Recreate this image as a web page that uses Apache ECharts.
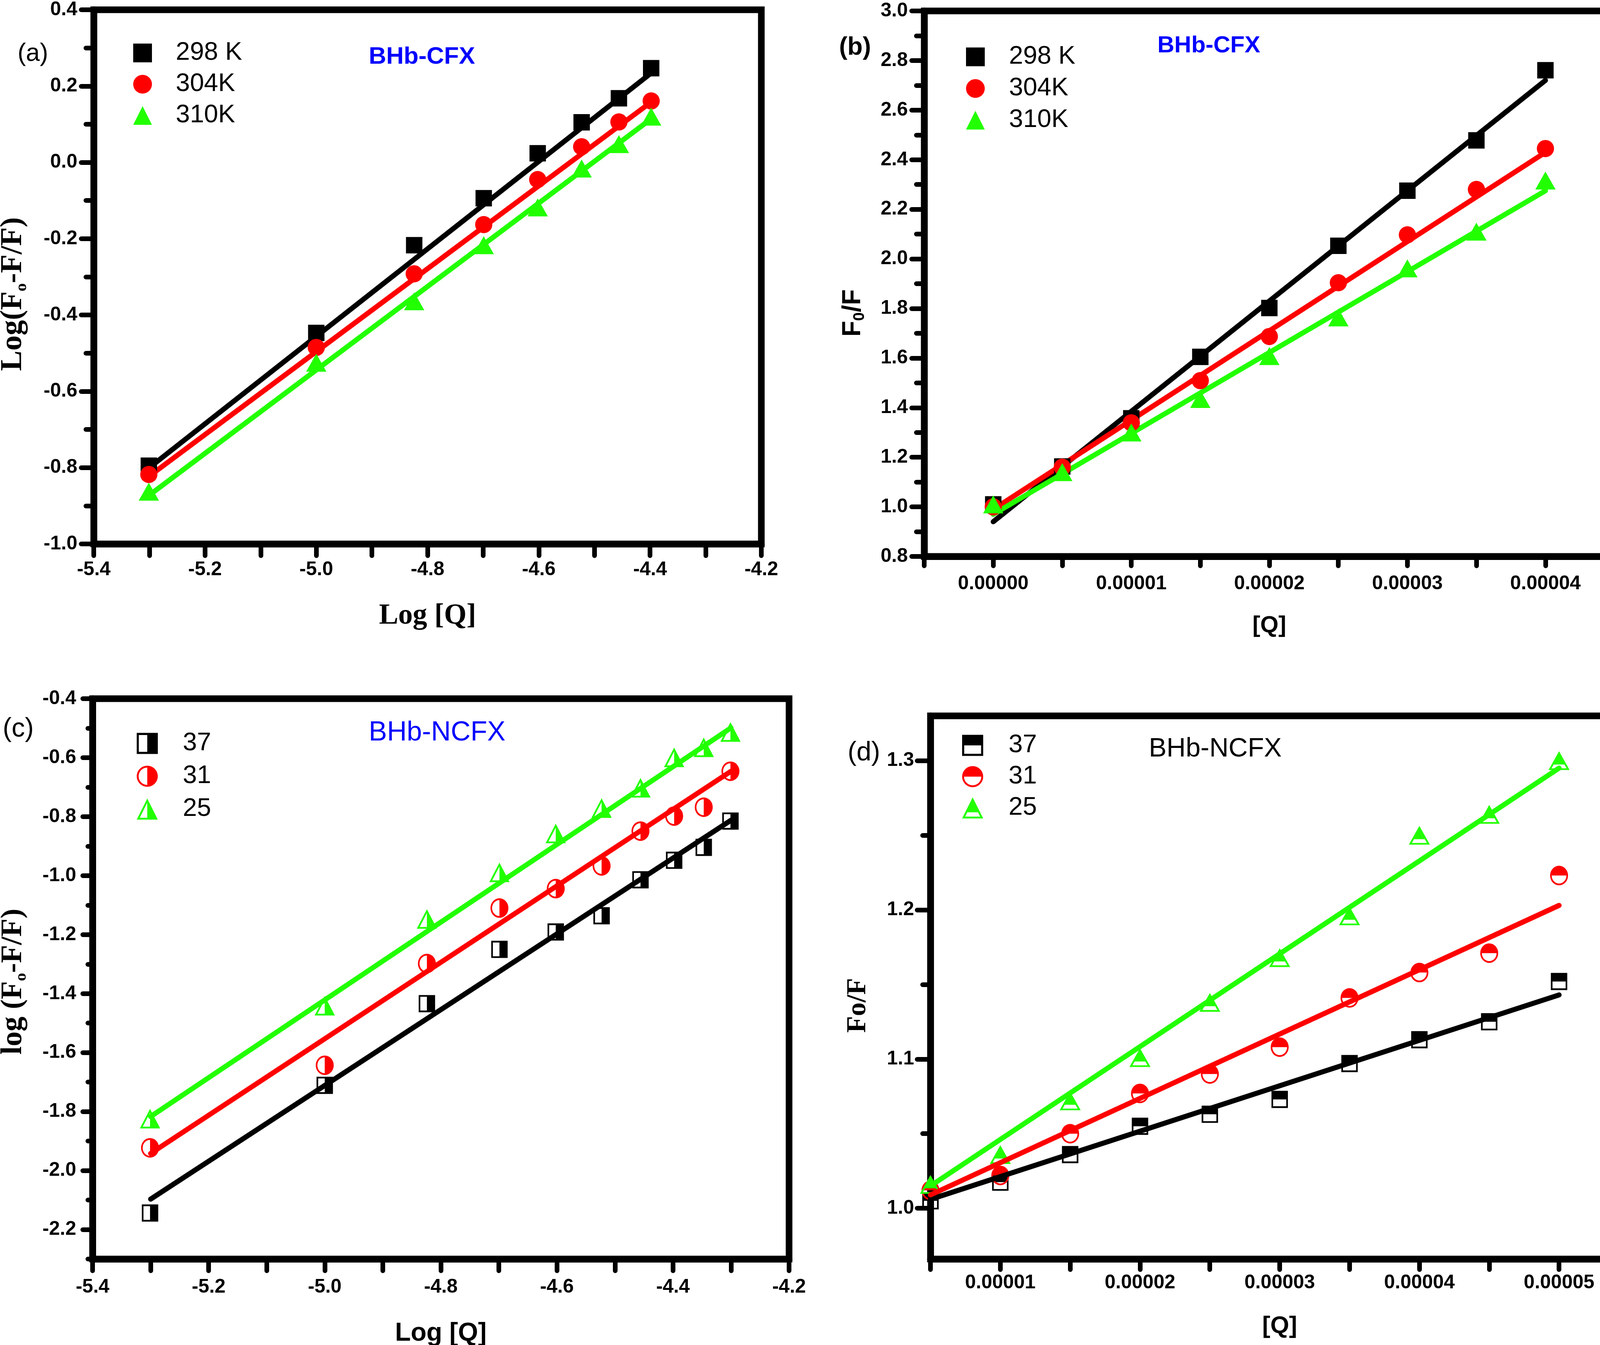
<!DOCTYPE html>
<html><head><meta charset="utf-8">
<script src="https://cdn.jsdelivr.net/npm/echarts@6/dist/echarts.min.js"></script>
<style>html,body{margin:0;padding:0;background:#fff}#c{width:4183px;height:3442px}</style>
</head><body><div id="c"></div>
<script>
// ---------- data ----------
// (a) log plot, BHb-CFX
const aLogQ = [-5.301, -5.0, -4.824, -4.699, -4.602, -4.523, -4.456, -4.398];
const a298 = [-0.795, -0.447, -0.217, -0.094, 0.024, 0.105, 0.168, 0.247];
const a304 = [-0.818, -0.485, -0.292, -0.163, -0.045, 0.041, 0.106, 0.161];
const a310 = [-0.863, -0.525, -0.364, -0.217, -0.118, -0.016, 0.048, 0.120];
const aFitX = [-5.3, -4.4];
const aFit298 = [-0.800, 0.232];
const aFit304 = [-0.822, 0.156];
const aFit310 = [-0.872, 0.112];
const aLegend = ['298 K', '304K', '310K'];

// (b) Stern-Volmer, BHb-CFX
const bQ = [0, 0.000005, 0.00001, 0.000015, 0.00002, 0.000025, 0.00003, 0.000035, 0.00004];
const b298 = [1.010, 1.163, 1.357, 1.605, 1.802, 2.053, 2.275, 2.478, 2.761];
const b304 = [1.000, 1.160, 1.339, 1.509, 1.687, 1.904, 2.097, 2.280, 2.445];
const b310 = [1.010, 1.140, 1.300, 1.435, 1.608, 1.764, 1.962, 2.110, 2.316];
const bFitX = [0, 0.00004];
const bFit298 = [0.940, 2.720];
const bFit304 = [0.990, 2.430];
const bFit310 = [0.970, 2.275];
const bLegend = ['298 K', '304K', '310K'];

// (c) log plot, BHb-NCFX
const cLogQ = [-5.301, -5.0, -4.824, -4.699, -4.602, -4.523, -4.456, -4.398, -4.347, -4.301];
const c37 = [-2.144, -1.711, -1.434, -1.250, -1.191, -1.136, -1.014, -0.948, -0.904, -0.815];
const c31 = [-1.923, -1.643, -1.298, -1.110, -1.044, -0.967, -0.849, -0.798, -0.768, -0.646];
const c25 = [-1.824, -1.441, -1.147, -0.989, -0.857, -0.771, -0.702, -0.599, -0.565, -0.513];
const cFitX = [-5.3, -4.3];
const cFit37 = [-2.097, -0.812];
const cFit31 = [-1.942, -0.646];
const cFit25 = [-1.817, -0.499];
const cLegend = ['37', '31', '25'];

// (d) Stern-Volmer, BHb-NCFX
const dQ = [0.000005, 0.00001, 0.000015, 0.00002, 0.000025, 0.00003, 0.000035, 0.00004, 0.000045, 0.00005];
const d37 = [1.005, 1.0175, 1.036, 1.055, 1.063, 1.073, 1.097, 1.113, 1.125, 1.152];
const d31 = [1.012, 1.022, 1.050, 1.077, 1.090, 1.108, 1.141, 1.158, 1.171, 1.223];
const d25 = [1.016, 1.036, 1.072, 1.101, 1.138, 1.168, 1.196, 1.250, 1.264, 1.300];
const dFitX = [0.000005, 0.00005];
const dFit37 = [1.006, 1.143];
const dFit31 = [1.009, 1.203];
const dFit25 = [1.015, 1.295];
const dLegend = ['37', '31', '25'];

// tick values / tick labels
const logXTicks = [-5.4, -5.3, -5.2, -5.1, -5.0, -4.9, -4.8, -4.7, -4.6, -4.5, -4.4, -4.3, -4.2];
const logXLabels = [-5.4, -5.2, -5.0, -4.8, -4.6, -4.4, -4.2];
const aYMajor = [-1.0, -0.8, -0.6, -0.4, -0.2, 0.0, 0.2, 0.4];
const aYMinor = [-0.9, -0.7, -0.5, -0.3, -0.1, 0.1, 0.3];
const bXTicks = [-0.000005, 0, 0.000005, 0.00001, 0.000015, 0.00002, 0.000025, 0.00003, 0.000035, 0.00004, 0.000045];
const bXLabels = [0, 0.00001, 0.00002, 0.00003, 0.00004];
const bYMajor = [0.8, 1.0, 1.2, 1.4, 1.6, 1.8, 2.0, 2.2, 2.4, 2.6, 2.8, 3.0];
const bYMinor = [0.9, 1.1, 1.3, 1.5, 1.7, 1.9, 2.1, 2.3, 2.5, 2.7, 2.9];
const cYMajor = [-2.2, -2.0, -1.8, -1.6, -1.4, -1.2, -1.0, -0.8, -0.6, -0.4];
const cYMinor = [-2.3, -2.1, -1.9, -1.7, -1.5, -1.3, -1.1, -0.9, -0.7, -0.5];
const dXTicks = [0.000005, 0.00001, 0.000015, 0.00002, 0.000025, 0.00003, 0.000035, 0.00004, 0.000045, 0.00005, 0.000055];
const dXLabels = [0.00001, 0.00002, 0.00003, 0.00004, 0.00005];
const dYMajor = [1.0, 1.1, 1.2, 1.3];
const dYMinor = [1.05, 1.15, 1.25];

// ---------- styling ----------
const SANS = '"Liberation Sans", Arial, sans-serif';
const SERIF = '"Liberation Serif", "Times New Roman", serif';
const BLACK = '#000000', RED = '#ff0000', GREEN = '#22ff00', BLUE = '#0000ff';

const SQ_R = 'path://M0,0L10,0L10,10L0,10Z M1,1L1,9L9,9L9,1Z M5,0L10,0L10,10L5,10Z';
const CI_R = 'path://M5,0A5,5,0,0,1,5,10A5,5,0,0,1,5,0Z M5,0.9A4.1,4.1,0,0,0,5,9.1A4.1,4.1,0,0,0,5,0.9Z M5,0A5,5,0,0,1,5,10Z';
const TR_R = 'path://M5,0L10,10L0,10Z M5,2L1.45,9.1L8.55,9.1Z M5,0L10,10L5,10Z';
const SQ_T = 'path://M0,0L10,0L10,10L0,10Z M1,1L1,9L9,9L9,1Z M0,0L10,0L10,5L0,5Z';
const CI_T = 'path://M5,0A5,5,0,0,1,5,10A5,5,0,0,1,5,0Z M5,0.9A4.1,4.1,0,0,0,5,9.1A4.1,4.1,0,0,0,5,0.9Z M0,5A5,5,0,0,1,10,5Z';
const TR_T = 'path://M5,0L10,10L0,10Z M5,2L1.45,9.1L8.55,9.1Z M5,0L8.54,7.07L1.46,7.07Z';

const grids = [
  {left: 240, top: 25, width: 1709, height: 1367},
  {left: 2366, top: 28, width: 1767, height: 1396},
  {left: 237, top: 1788, width: 1783, height: 1434},
  {left: 2382, top: 1832, width: 1788, height: 1390}
];

const pts = (xs, ys) => xs.map((x, i) => [x, ys[i]]);
const f1 = v => Number(v).toFixed(1);
const f5 = v => Number(v).toFixed(5);
const FRAME = 17;
const tickStyle = {color: '#000', width: 12, cap: 'round'};
const labelBase = {color: '#000', fontFamily: SANS, fontWeight: 'bold', fontSize: 50, lineHeight: 50, showMinLabel: true, showMaxLabel: true};

function xAx(g, min, max, ticks, labels, fmt, name, nameStyle, nameGap, margin, tickLen) {
  return {
    type: 'value', gridIndex: g, min, max, position: 'bottom',
    splitLine: {show: false},
    axisLine: {show: true, onZero: false, lineStyle: {color: '#000', width: FRAME}},
    axisTick: {show: true, inside: false, length: tickLen, customValues: ticks, lineStyle: tickStyle},
    axisLabel: Object.assign({customValues: labels, formatter: fmt, margin}, labelBase),
    name, nameLocation: 'middle', nameGap, nameTextStyle: nameStyle
  };
}
function yAx(g, min, max, major, fmt, name, nameStyle, nameGap, margin, tickLen) {
  return {
    type: 'value', gridIndex: g, min, max, position: 'left',
    splitLine: {show: false},
    axisLine: {show: true, onZero: false, lineStyle: {color: '#000', width: FRAME}},
    axisTick: {show: true, inside: false, length: tickLen, customValues: major, lineStyle: tickStyle},
    axisLabel: Object.assign({customValues: major, formatter: fmt, margin}, labelBase),
    name, nameLocation: 'middle', nameGap, nameRotate: 90, nameTextStyle: nameStyle
  };
}
function yMinorAx(g, min, max, minor, len) {
  return {
    type: 'value', gridIndex: g, min, max, position: 'right', offset: -grids[g].width,
    splitLine: {show: false}, axisLine: {show: false, onZero: false}, axisLabel: {show: false},
    axisTick: {show: true, inside: true, length: len, customValues: minor, lineStyle: tickStyle}
  };
}
function subName(font, weight, size, subSize, padRight) {
  return {
    padding: [0, padRight, 0, 0],
    rich: {
      t: {fontFamily: font, fontWeight: weight, fontSize: size, lineHeight: size + 8, verticalAlign: 'middle', color: '#000'},
      s: {fontFamily: font, fontWeight: weight, fontSize: subSize, lineHeight: 10, verticalAlign: 'bottom', color: '#000'}
    }
  };
}
function fitLine(g, xs, ys, color, z) {
  return {type: 'line', xAxisIndex: g, yAxisIndex: g, data: pts(xs, ys), symbol: 'none', showSymbol: false,
    silent: true, z, lineStyle: {color, width: 13, cap: 'round'}, itemStyle: {color}};
}
function marks(g, name, xs, ys, symbol, size, color, z) {
  return {type: 'scatter', name, xAxisIndex: g, yAxisIndex: g, data: pts(xs, ys), symbol, symbolSize: size,
    z, itemStyle: {color, opacity: 1, borderWidth: 0}};
}
function legend(left, top, gap, pad, names, labels, size) {
  return {
    orient: 'vertical', left, top, itemWidth: size, itemHeight: size, itemGap: gap, padding: 0,
    selectedMode: false, data: names,
    formatter: n => labels[names.indexOf(n)],
    textStyle: {fontFamily: SANS, fontSize: 65, lineHeight: 48, color: '#000', padding: [0, 0, 0, pad]}
  };
}
function label(text, left, top, size, weight, color, family) {
  return {text, left, top, padding: 0,
    textStyle: {fontFamily: family || SANS, fontSize: size, lineHeight: size, fontWeight: weight, color}};
}

const option = {
  animation: false,
  backgroundColor: '#ffffff',
  title: [
    label('(a)', 45, 106, 64, 'normal', '#000'),
    label('BHb-CFX', 944, 115, 62, 'bold', BLUE),
    label('(b)', 2148, 90, 64, 'bold', '#000'),
    label('BHb-CFX', 2963, 87, 60, 'bold', BLUE),
    label('(c)', 7, 1832, 68, 'normal', '#000'),
    label('BHb-NCFX', 944, 1841, 70, 'normal', BLUE),
    label('(d)', 2170, 1893, 68, 'normal', '#000'),
    label('BHb-NCFX', 2941, 1883, 68, 'normal', '#000')
  ],
  legend: [
    legend(341, 103, 15, 56, ['a298', 'a304', 'a310'], aLegend, 48),
    legend(2473, 113, 16, 57, ['b298', 'b304', 'b310'], bLegend, 48),
    legend(350, 1870, 19, 59, ['c37', 'c31', 'c25'], cLegend, 54),
    legend(2463, 1875, 15, 60, ['d37', 'd31', 'd25'], dLegend, 54)
  ],
  grid: grids.map(g => Object.assign({show: true, borderColor: '#000', borderWidth: FRAME, backgroundColor: 'transparent', containLabel: false, outerBoundsMode: 'none'}, g)),
  xAxis: [
    xAx(0, -5.4, -4.2, logXTicks, logXLabels, f1, 'Log [Q]',
      {fontFamily: SERIF, fontWeight: 'bold', fontSize: 74, lineHeight: 74, color: '#000'}, 148, 41, 30),
    xAx(1, -0.000005, 0.000045, bXTicks, bXLabels, f5, '[Q]',
      {fontFamily: SANS, fontWeight: 'bold', fontSize: 60, lineHeight: 60, color: '#000'}, 147, 45, 24),
    xAx(2, -5.4, -4.2, logXTicks, logXLabels, f1, 'Log [Q]',
      {fontFamily: SANS, fontWeight: 'bold', fontSize: 66, lineHeight: 66, color: '#000'}, 158, 47, 30),
    xAx(3, 0.000005, 0.000055, dXTicks, dXLabels, f5, '[Q]',
      {fontFamily: SANS, fontWeight: 'bold', fontSize: 62, lineHeight: 62, color: '#000'}, 141, 36, 27)
  ],
  yAxis: [
    yAx(0, -1.0, 0.4, aYMajor, f1, '{t|Log(F}{s|o}{t|-F/F)}', subName(SERIF, 'bold', 78, 42, 88), 163, 42, 32),
    yAx(1, 0.8, 3.0, bYMajor, f1, '{t|F}{s|0}{t|/F}', subName(SANS, 'bold', 66, 40, 150), 145, 42, 32),
    yAx(2, -2.3, -0.4, cYMajor, f1, '{t|log (F}{s|o}{t|-F/F)}', subName(SERIF, 'bold', 76, 42, 14), 161, 42, 25),
    yAx(3, 0.966, 1.33, dYMajor, f1, 'Fo/F',
      {fontFamily: SERIF, fontWeight: 'bold', fontSize: 70, lineHeight: 70, color: '#000', padding: [0, 92, 0, 0]}, 150, 42, 34),
    yMinorAx(0, -1.0, 0.4, aYMinor, 20),
    yMinorAx(1, 0.8, 3.0, bYMinor, 20),
    yMinorAx(2, -2.3, -0.4, cYMinor, 12),
    yMinorAx(3, 0.966, 1.33, dYMinor, 20)
  ],
  series: [
    // (a): fit lines under markers
    fitLine(0, aFitX, aFit298, BLACK, 2),
    fitLine(0, aFitX, aFit304, RED, 2),
    fitLine(0, aFitX, aFit310, GREEN, 2),
    marks(0, 'a298', aLogQ, a298, 'rect', 42, BLACK, 3),
    marks(0, 'a304', aLogQ, a304, 'circle', 44, RED, 3),
    marks(0, 'a310', aLogQ, a310, 'triangle', [52, 46], GREEN, 3),
    // (b)
    fitLine(1, bFitX, bFit298, BLACK, 2),
    fitLine(1, bFitX, bFit304, RED, 2),
    fitLine(1, bFitX, bFit310, GREEN, 2),
    marks(1, 'b298', bQ, b298, 'rect', 42, BLACK, 3),
    marks(1, 'b304', bQ, b304, 'circle', 44, RED, 3),
    marks(1, 'b310', bQ, b310, 'triangle', [52, 46], GREEN, 3),
    // (c): markers under fit lines
    marks(2, 'c37', cLogQ, c37, SQ_R, [42, 44], BLACK, 2),
    marks(2, 'c31', cLogQ, c31, CI_R, [46, 50], RED, 2),
    marks(2, 'c25', cLogQ, c25, TR_R, [52, 50], GREEN, 2),
    fitLine(2, cFitX, cFit37, BLACK, 3),
    fitLine(2, cFitX, cFit31, RED, 3),
    fitLine(2, cFitX, cFit25, GREEN, 3),
    // (d)
    marks(3, 'd37', dQ, d37, SQ_T, [42, 44], BLACK, 2),
    marks(3, 'd31', dQ, d31, CI_T, [46, 50], RED, 2),
    marks(3, 'd25', dQ, d25, TR_T, [54, 48], GREEN, 2),
    fitLine(3, dFitX, dFit37, BLACK, 3),
    fitLine(3, dFitX, dFit31, RED, 3),
    fitLine(3, dFitX, dFit25, GREEN, 3)
  ]
};

const chart = echarts.init(document.getElementById('c'), null, {renderer: 'canvas', width: 4183, height: 3442});
chart.setOption(option);
</script>
</body></html>
